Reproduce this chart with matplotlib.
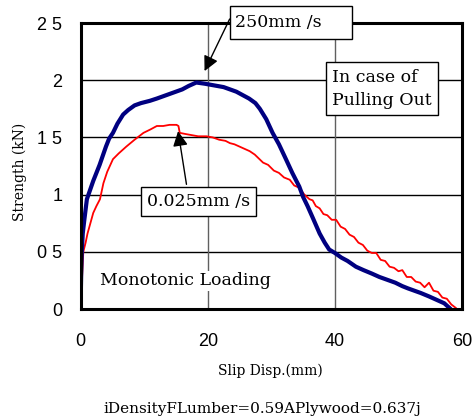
import matplotlib
matplotlib.use("Agg")
import matplotlib.pyplot as plt
from matplotlib.patches import Rectangle

# Slip displacement (mm) and strength (kN) for the two loading rates
fast_disp = [0.0, 0.05, 0.1, 0.2, 0.35, 0.6, 1.0, 1.5, 2.0, 2.5, 3.0, 3.5, 4.0, 4.5, 5.1,
             5.8, 6.7, 7.5, 8.5, 9.5, 10.9, 12.0, 13.0, 14.0, 15.0, 16.0, 17.0, 18.2,
             19.5, 20.5, 21.5, 22.5, 23.5, 24.5, 25.5, 26.5, 27.5, 28.2, 29.2, 30.2,
             31.2, 32.3, 33.3, 34.4, 35.0, 35.7, 36.5, 37.6, 38.4, 39.1, 40.0, 41.0,
             42.0, 43.3, 44.5, 45.8, 47.0, 48.5, 49.5, 50.6, 51.5, 52.5, 53.5, 54.8,
             56.0, 57.2, 58.2]
fast_load = [0.0, 0.15, 0.3, 0.5, 0.66, 0.78, 0.96, 1.04, 1.12, 1.19, 1.26, 1.34, 1.42,
             1.49, 1.54, 1.62, 1.70, 1.74, 1.78, 1.80, 1.82, 1.84, 1.86, 1.88, 1.90,
             1.92, 1.95, 1.98, 1.97, 1.96, 1.95, 1.94, 1.92, 1.90, 1.87, 1.84, 1.80,
             1.75, 1.66, 1.54, 1.44, 1.31, 1.19, 1.07, 0.98, 0.90, 0.80, 0.66, 0.58,
             0.52, 0.49, 0.45, 0.42, 0.37, 0.34, 0.31, 0.28, 0.25, 0.23, 0.20, 0.18,
             0.16, 0.14, 0.11, 0.08, 0.05, 0.0]

slow_disp = [0.0, 0.1, 0.2, 0.3, 0.44, 0.8, 1.1, 1.5, 2.0, 2.5, 3.06, 3.6, 4.2, 5.1, 6.0,
             7.2, 8.5, 9.9, 11.0, 12.0, 13.0, 14.0, 15.1, 15.4, 15.6, 16.5, 17.5, 18.5,
             19.8, 20.8, 21.8, 22.8, 23.5, 24.2, 25.0, 25.8, 26.6, 27.4, 28.7, 29.5,
             30.4, 31.2, 32.0, 32.9, 33.6, 34.4, 35.2, 36.0, 36.5, 37.0, 37.6, 38.2,
             38.8, 39.5, 40.2, 40.9, 41.6, 42.3, 43.0, 43.7, 44.4, 45.1, 45.8, 46.5,
             47.2, 47.9, 48.6, 49.3, 50.0, 50.6, 51.3, 52.0, 52.7, 53.4, 54.1, 54.8,
             55.5, 56.2, 56.9, 57.6, 58.3, 59.0]
slow_load = [0.0, 0.1, 0.22, 0.35, 0.5, 0.58, 0.66, 0.74, 0.84, 0.90, 0.96, 1.10, 1.20,
             1.31, 1.36, 1.42, 1.48, 1.54, 1.57, 1.60, 1.60, 1.61, 1.61, 1.60, 1.54,
             1.53, 1.52, 1.51, 1.51, 1.50, 1.48, 1.47, 1.45, 1.44, 1.42, 1.40, 1.38,
             1.35, 1.28, 1.26, 1.21, 1.19, 1.15, 1.13, 1.08, 1.06, 1.00, 0.96, 0.95,
             0.90, 0.88, 0.83, 0.82, 0.78, 0.78, 0.72, 0.70, 0.65, 0.63, 0.58, 0.56,
             0.51, 0.49, 0.49, 0.43, 0.42, 0.37, 0.36, 0.33, 0.34, 0.28, 0.28, 0.24,
             0.23, 0.19, 0.23, 0.16, 0.15, 0.10, 0.09, 0.04, 0.01]

x_ticks = [0, 20, 40, 60]
y_ticks = [0, 0.5, 1, 1.5, 2, 2.5]
y_tick_labels = ["0", "0 5", "1", "1 5", "2", "2 5"]

serif = "DejaVu Serif"

fig = plt.figure(figsize=(4.72, 4.19), dpi=100)
ax = fig.add_axes([0.1706, 0.2625, 0.8084, 0.6825])

ax.set_xlim(0, 60)
ax.set_ylim(0, 2.5)

for yv in [0.5, 1.0, 1.5, 2.0]:
    ax.axhline(yv, color="black", lw=1.0, zorder=1)
for xv in [20, 40]:
    ax.axvline(xv, color="#606060", lw=1.0, zorder=1)

ax.plot(slow_disp, slow_load, color="#ff0000", lw=1.3, zorder=3)
ax.plot(fast_disp, fast_load, color="#000080", lw=3.0, zorder=4,
        solid_capstyle="round", solid_joinstyle="round")

for sp in ax.spines.values():
    sp.set_linewidth(2.2)
    sp.set_color("black")
    sp.set_zorder(5)

ax.set_xticks(x_ticks)
ax.set_xticklabels([str(v) for v in x_ticks], fontfamily="Liberation Sans", fontsize=13)
ax.set_yticks(y_ticks)
ax.set_yticklabels(y_tick_labels, fontfamily="Liberation Sans", fontsize=13)
ax.tick_params(axis="both", length=0)
ax.tick_params(axis="x", pad=17)
ax.tick_params(axis="y", pad=13)

fig.text(0.043, 0.59, "Strength (kN)", rotation=90, ha="center", va="center",
         family=serif, fontsize=10)
fig.text(0.572, 0.115, "Slip Disp.(mm)", ha="center", va="center",
         family=serif, fontsize=10)
fig.text(0.556, 0.024, "iDensityFLumber=0.59APlywood=0.637j", ha="center",
         va="center", family=serif, fontsize=11)

box = dict(boxstyle="square,pad=0.35", fc="white", ec="black", lw=1.0)
arrow = dict(arrowstyle="-|>,head_length=0.9,head_width=0.45", color="black",
             lw=1.0, shrinkA=0, shrinkB=0)

# Fast-rate label: framed box straddling the top spine
ax.annotate("", xy=(19.5, 2.08), xytext=(23.45, 2.535), arrowprops=arrow,
            annotation_clip=False, zorder=6)
ax.add_patch(Rectangle((23.45, 2.36), 19.3, 0.29, fc="white", ec="black", lw=1.0,
                       zorder=7, clip_on=False))
ax.text(24.25, 2.504, "250mm /s", ha="left", va="center", family=serif,
        fontsize=12.5, zorder=8, clip_on=False)

ax.annotate("", xy=(15.34, 1.555), xytext=(16.66, 1.09), arrowprops=arrow, zorder=6)
ax.text(18.5, 0.939, "0.025mm /s", ha="center", va="center", family=serif,
        fontsize=12.5, bbox=box, zorder=7)

ax.text(47.4, 1.925, "In case of\nPulling Out", ha="center", va="center",
        multialignment="left", family=serif, fontsize=12.5, bbox=box, zorder=7,
        linespacing=1.5)

ax.text(3.06, 0.246, "Monotonic Loading", ha="left", va="center", family=serif,
        fontsize=12.5, zorder=7,
        bbox=dict(boxstyle="square,pad=0.1", fc="white", ec="none"))

fig.savefig("out.png", dpi=100)
